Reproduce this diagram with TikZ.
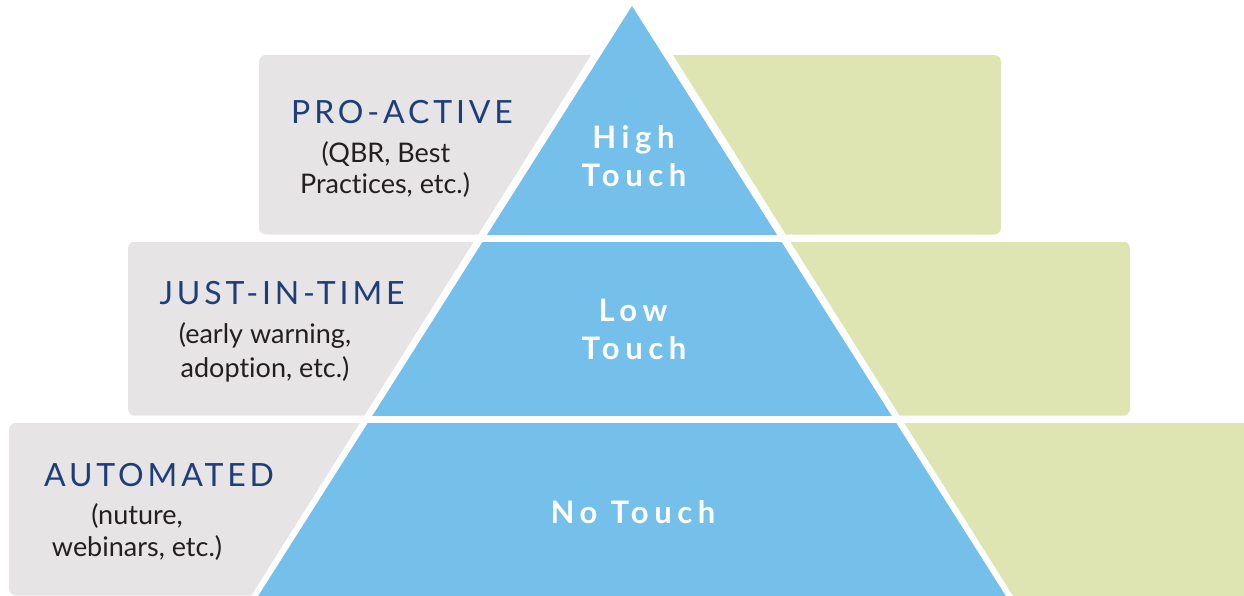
\documentclass[tikz,border=0pt]{standalone}
\usepackage{fontspec}
\setmainfont{Lato}[Ligatures={NoCommon}]
\newfontfamily\headfont[LetterSpace=12]{Lato}
\newfontfamily\labfont[LetterSpace=18]{Lato}
\definecolor{boxgray}{HTML}{E6E4E5}
\definecolor{boxgreen}{HTML}{DEE5B3}
\definecolor{pyrblue}{HTML}{74C0EA}
\definecolor{headblue}{HTML}{1E3E7B}
\definecolor{bodytext}{HTML}{231F20}
\tikzset{
  graybox/.style={fill=boxgray, rounded corners=7pt},
  greenbox/.style={fill=boxgreen, rounded corners=7pt},
  head/.style={anchor=base, inner sep=0pt, text=headblue, font=\headfont\fontsize{32}{36}\selectfont},
  body/.style={anchor=base, inner sep=0pt, text=bodytext, font=\fontsize{27}{30}\selectfont},
  tier/.style={anchor=base, inner sep=0pt, text=white, font=\labfont\bfseries\fontsize{31}{34}\selectfont},
}
\begin{document}
\begin{tikzpicture}[x=1pt,y=-1pt]
\useasboundingbox (0,0) rectangle (1244,595);
% boxes
\fill[graybox]  (259,55) rectangle (640,234.5);
\fill[greenbox] (625,55) rectangle (1001,234.5);
\fill[graybox]  (128,241.5) rectangle (640,415.7);
\fill[greenbox] (625,241.5) rectangle (1130,415.7);
\fill[graybox]  (9,422.7) rectangle (640,595.5);
\fill[greenbox] (625,422.7) rectangle (1260,610);
% pyramid
\fill[white] (632,-10) -- (248,601) -- (1016,601) -- cycle;
\fill[pyrblue, rounded corners=3pt] (632,6) -- (255,601) -- (1009,601) [sharp corners]-- cycle;
\fill[white] (0,234.5) rectangle (1244,241.5);
\fill[white] (0,415.7) rectangle (1244,422.7);
% texts
\node[head] (pa) at (402,123) {PRO-ACTIVE};
\node[body] (pa1) at (386,162.7) {(QBR, Best};
\node[body] (pa2) at (385,193.3) {Practices, etc.)};
\node[head] (jit) at (282,304) {JUST-IN-TIME};
\node[body] (jit1) at (265,343) {(early warning,};
\node[body] (jit2) at (265,377) {adoption, etc.)};
\node[head] (au) at (159,486.7) {AUTOMATED};
\node[body] (au1) at (137,524) {(nuture,};
\node[body] (au2) at (137,556.7) {webinars, etc.)};
\node[tier] (ht1) at (633.5,148.3) {High};
\node[tier] (ht2) at (634,186.7) {Touch};
\node[tier] (lt1) at (633,321) {Low};
\node[tier] (lt2) at (634,359) {Touch};
\node[tier] (nt) at (633,523) {No Touch};
\end{tikzpicture}
\end{document}
